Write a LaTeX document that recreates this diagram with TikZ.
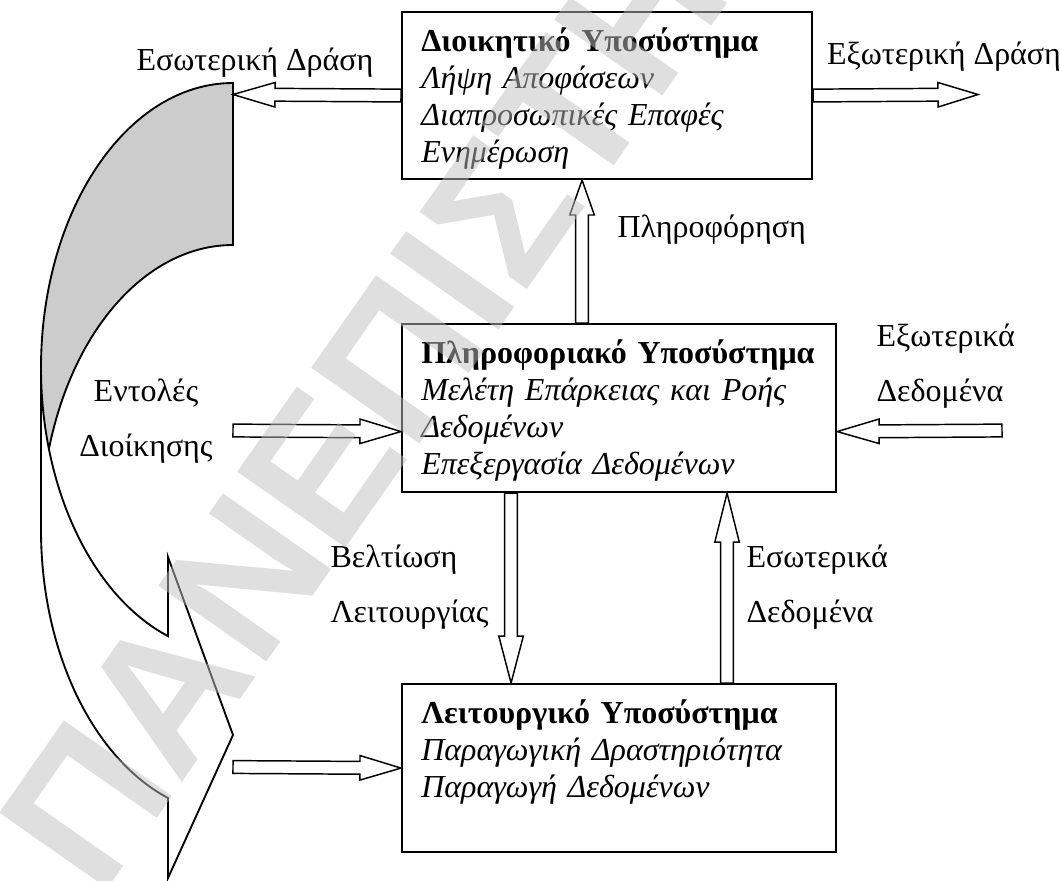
\documentclass[tikz,border=0pt]{standalone}
\usepackage{fontspec}
\setmainfont{Liberation Serif}
\newfontfamily\wmfont{Liberation Sans}
\usetikzlibrary{calc}
\tikzstyle{subsys} = [draw, line width=0.8pt, anchor=north west, align=left,
  inner xsep=7.2pt, inner ysep=0pt, text height=14.8pt,
  font=\fontsize{12}{13.9}\selectfont]
\tikzstyle{lbl} = [inner sep=0pt, font=\fontsize{12}{20.6}\selectfont]
\tikzstyle{loopband} = [line width=0.7pt, line join=miter, x radius=192, y radius=285]
\tikzstyle{wmark} = [inner sep=0pt, text=black!25, fill opacity=0.5,
  font=\wmfont\bfseries\fontsize{72}{74}\selectfont]
\tikzset{blockarrow/.style={draw, line width=0.55pt, line join=miter, to path={
    ($(\tikztostart)!2.4pt!90:(\tikztotarget)$)
    -- ($(\tikztotarget)!#1!(\tikztostart)!2.4pt!90:(\tikztotarget)$)
    -- ($(\tikztotarget)!#1!(\tikztostart)!4.6pt!90:(\tikztotarget)$)
    -- (\tikztotarget)
    -- ($(\tikztotarget)!#1!(\tikztostart)!4.6pt!-90:(\tikztotarget)$)
    -- ($(\tikztotarget)!#1!(\tikztostart)!2.4pt!-90:(\tikztotarget)$)
    -- ($(\tikztostart)!2.4pt!-90:(\tikztotarget)$) -- cycle}},
  blockarrow/.default=15.75pt}

\begin{document}
\begin{tikzpicture}[x=0.375pt, y=-0.375pt]
    \useasboundingbox (0,0) rectangle (1061,880);
    \node[subsys, text width=139.35pt, text depth=47.8pt] (admin) at (401,11)
        {\textbf{Διοικητικό Υποσύστημα}\\\textit{Λήψη Αποφάσεων}\\
         \textit{Διαπροσωπικές Επαφές}\\\textit{Ενημέρωση}};
    \node[subsys, text width=148.35pt, text depth=48.2pt] (info) at (401,323)
        {\textbf{Πληροφοριακό Υποσύστημα}\\\textit{Μελέτη Επάρκειας και Ροής}\\
         \textit{Δεδομένων}\\\textit{Επεξεργασία Δεδομένων}};
    \node[subsys, text width=148.35pt, text depth=48.2pt] (oper) at (401,683)
        {\textbf{Λειτουργικό Υποσύστημα}\\\textit{Παραγωγική Δραστηριότητα}\\
         \textit{Παραγωγή Δεδομένων}};
    % curved band on the left
    \fill[black!20, x radius=192, y radius=285] (48.9,449)
        arc[start angle=163.5, end angle=270] -- (233,245)
        arc[start angle=270, end angle=196.5] -- cycle;
    \draw[loopband] (41,368) arc[start angle=180, end angle=109.79]
        -- (168,557) -- (233,735) -- (168,878) -- (168,798)
        arc[start angle=109.79, end angle=180] -- (41,368)
        arc[start angle=180, end angle=270] -- (233,245)
        arc[start angle=270, end angle=196.5];
    \coordinate (loop-in) at (233,94.5);
    \coordinate (loop-out) at (233,767);
    \coordinate (act-out) at (978,94.5);
    \coordinate (cmd-tail) at (233,430.5);
    \coordinate (ext-tail) at (1002,430.5);
    \coordinate (info-cmd) at ($(info.west)+(0,23.5)$);
    \coordinate (info-ext) at ($(info.east)+(0,23.5)$);
    \coordinate (info-rep) at ($(info.north)+(-37,0)$);
    \coordinate (admin-rep) at (info-rep |- admin.south);
    \coordinate (info-imp) at ($(info.south)+(-108,0)$);
    \coordinate (oper-imp) at (info-imp |- oper.north);
    \coordinate (oper-dat) at ($(oper.north)+(108,0)$);
    \coordinate (info-dat) at (oper-dat |- info.south);
    \draw[blockarrow] (admin.west) to (loop-in);
    \draw[blockarrow=15pt] (admin.east) to (act-out);
    \draw[blockarrow=13.1pt] (info-rep) to (admin-rep);
    \draw[blockarrow=15.4pt] (cmd-tail) to (info-cmd);
    \draw[blockarrow] (ext-tail) to (info-ext);
    \draw[blockarrow=17.6pt] (info-imp) to (oper-imp);
    \draw[blockarrow=18.4pt] (oper-dat) to (info-dat);
    \draw[blockarrow=15.4pt] (loop-out) to (oper.west);
    \node[lbl] (int-act) at (255,63) {Εσωτερική Δράση};
    \node[lbl] (ext-act) at (944,57) {Εξωτερική Δράση};
    \node[lbl, anchor=west] (rep-lbl) at (617,230) {Πληροφόρηση};
    \node[lbl, align=center] (cmd-lbl) at (146,421) {Εντολές\\Διοίκησης};
    \node[lbl, align=left, anchor=west] (ext-lbl) at (876,366) {Εξωτερικά\\Δεδομένα};
    \node[lbl, align=left, anchor=west] (imp-lbl) at (330,587) {Βελτίωση\\Λειτουργίας};
    \node[lbl, align=left, anchor=west] (dat-lbl) at (746,587) {Εσωτερικά\\Δεδομένα};
    \begin{scope}
        \clip (0,0) rectangle (1061,880);
        \node[wmark, rotate=55, anchor=base west] (wm) at (100,900) {ΠΑΝΕΠΙΣΤΗΜΙΟ};
    \end{scope}
\end{tikzpicture}
\end{document}
